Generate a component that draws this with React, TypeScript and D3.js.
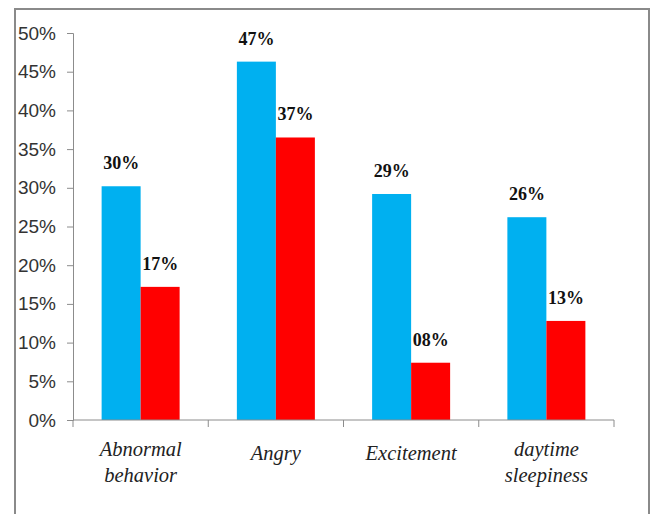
import { useEffect, useRef } from "react";
import * as d3 from "d3";

const categories = [["Abnormal", "behavior"], ["Angry"], ["Excitement"], ["daytime", "sleepiness"]];
const keys = ["Abnormal behavior", "Angry", "Excitement", "daytime sleepiness"];
const seriesA = [0.302, 0.463, 0.292, 0.262];
const seriesB = [0.172, 0.365, 0.074, 0.128];
const labelsA = ["30%", "47%", "29%", "26%"];
const labelsB = ["17%", "37%", "08%", "13%"];
const yTicks = [0, 0.05, 0.1, 0.15, 0.2, 0.25, 0.3, 0.35, 0.4, 0.45, 0.5];

const width = 659;
const height = 514;
const marginLeft = 73;
const marginRight = 45;
const marginTop = 33;
const marginBottom = 94;

export default function App() {
  const xAxis = useRef<SVGGElement>(null);
  const yAxis = useRef<SVGGElement>(null);

  const x = d3.scaleBand<string>().domain(keys).range([marginLeft, width - marginRight]);
  const y = d3.scaleLinear().domain([0, 0.5]).range([height - marginBottom, marginTop]);
  const barW = 39;

  useEffect(() => {
    const gx = d3.select(xAxis.current!);
    gx.attr("transform", `translate(0,${height - marginBottom})`);
    gx.selectAll("*").remove();
    gx.append("line")
      .attr("x1", marginLeft).attr("x2", width - marginRight)
      .attr("stroke", "#8c8c8c").attr("stroke-width", 1);
    const bounds = [...keys.map((k) => x(k)!), width - marginRight];
    gx.selectAll("line.tick")
      .data(bounds)
      .join("line")
      .attr("class", "tick")
      .attr("x1", (d) => d).attr("x2", (d) => d)
      .attr("y1", 0).attr("y2", 7)
      .attr("stroke", "#8c8c8c");
    gx.selectAll("text.cat")
      .data(categories)
      .join("text")
      .attr("class", "cat")
      .attr("text-anchor", "middle")
      .attr("font-family", "'Liberation Serif', serif")
      .attr("font-style", "italic")
      .attr("font-size", 20.5)
      .attr("fill", "#222")
      .attr("transform", (_, i) => `translate(${x(keys[i])! + x.bandwidth() / 2},0)`)
      .each(function (lines) {
        const t = d3.select(this);
        const start = lines.length > 1 ? 36 : 40;
        lines.forEach((l, j) => {
          t.append("tspan").attr("x", 0).attr("y", start + j * 26).text(l);
        });
      });

    const gy = d3.select(yAxis.current!);
    gy.attr("transform", `translate(${marginLeft},0)`)
      .call(
        d3.axisLeft(y)
          .tickValues(yTicks)
          .tickFormat((d) => `${Math.round(+d * 100)}%`)
          .tickSize(6)
          .tickPadding(11)
      );
    gy.select(".domain").attr("stroke", "#8c8c8c");
    gy.selectAll(".tick line").attr("stroke", "#8c8c8c");
    gy.selectAll(".tick text")
      .attr("font-family", "'Liberation Sans Narrow', 'Liberation Sans', sans-serif")
      .attr("font-size", 19)
      .attr("fill", "#333");
  }, []);

  return (
    <svg width={width} height={height} style={{ position: "absolute", left: 0, top: 0 }}>
      <rect x={0} y={0} width={width} height={height} fill="#fff" />
      <rect x={15} y={9} width={634} height={520} fill="none" stroke="#8a8a8a" strokeWidth={2} />
      {keys.map((k, i) => {
        const cx = x(k)! + x.bandwidth() / 2;
        return (
          <g key={k}>
            <rect x={cx - barW} y={y(seriesA[i])} width={barW} height={y(0) - y(seriesA[i])} fill="#00b0f0" />
            <rect x={cx} y={y(seriesB[i])} width={barW} height={y(0) - y(seriesB[i])} fill="#ff0000" />
            <text x={cx - barW / 2} y={y(seriesA[i]) - 17} textAnchor="middle"
              fontFamily="'Liberation Serif', serif" fontWeight="bold" fontSize={18} fill="#111">
              {labelsA[i]}
            </text>
            <text x={cx + barW / 2} y={y(seriesB[i]) - 17} textAnchor="middle"
              fontFamily="'Liberation Serif', serif" fontWeight="bold" fontSize={18} fill="#111">
              {labelsB[i]}
            </text>
          </g>
        );
      })}
      <g ref={xAxis}></g>
      <g ref={yAxis}></g>
    </svg>
  );
}
